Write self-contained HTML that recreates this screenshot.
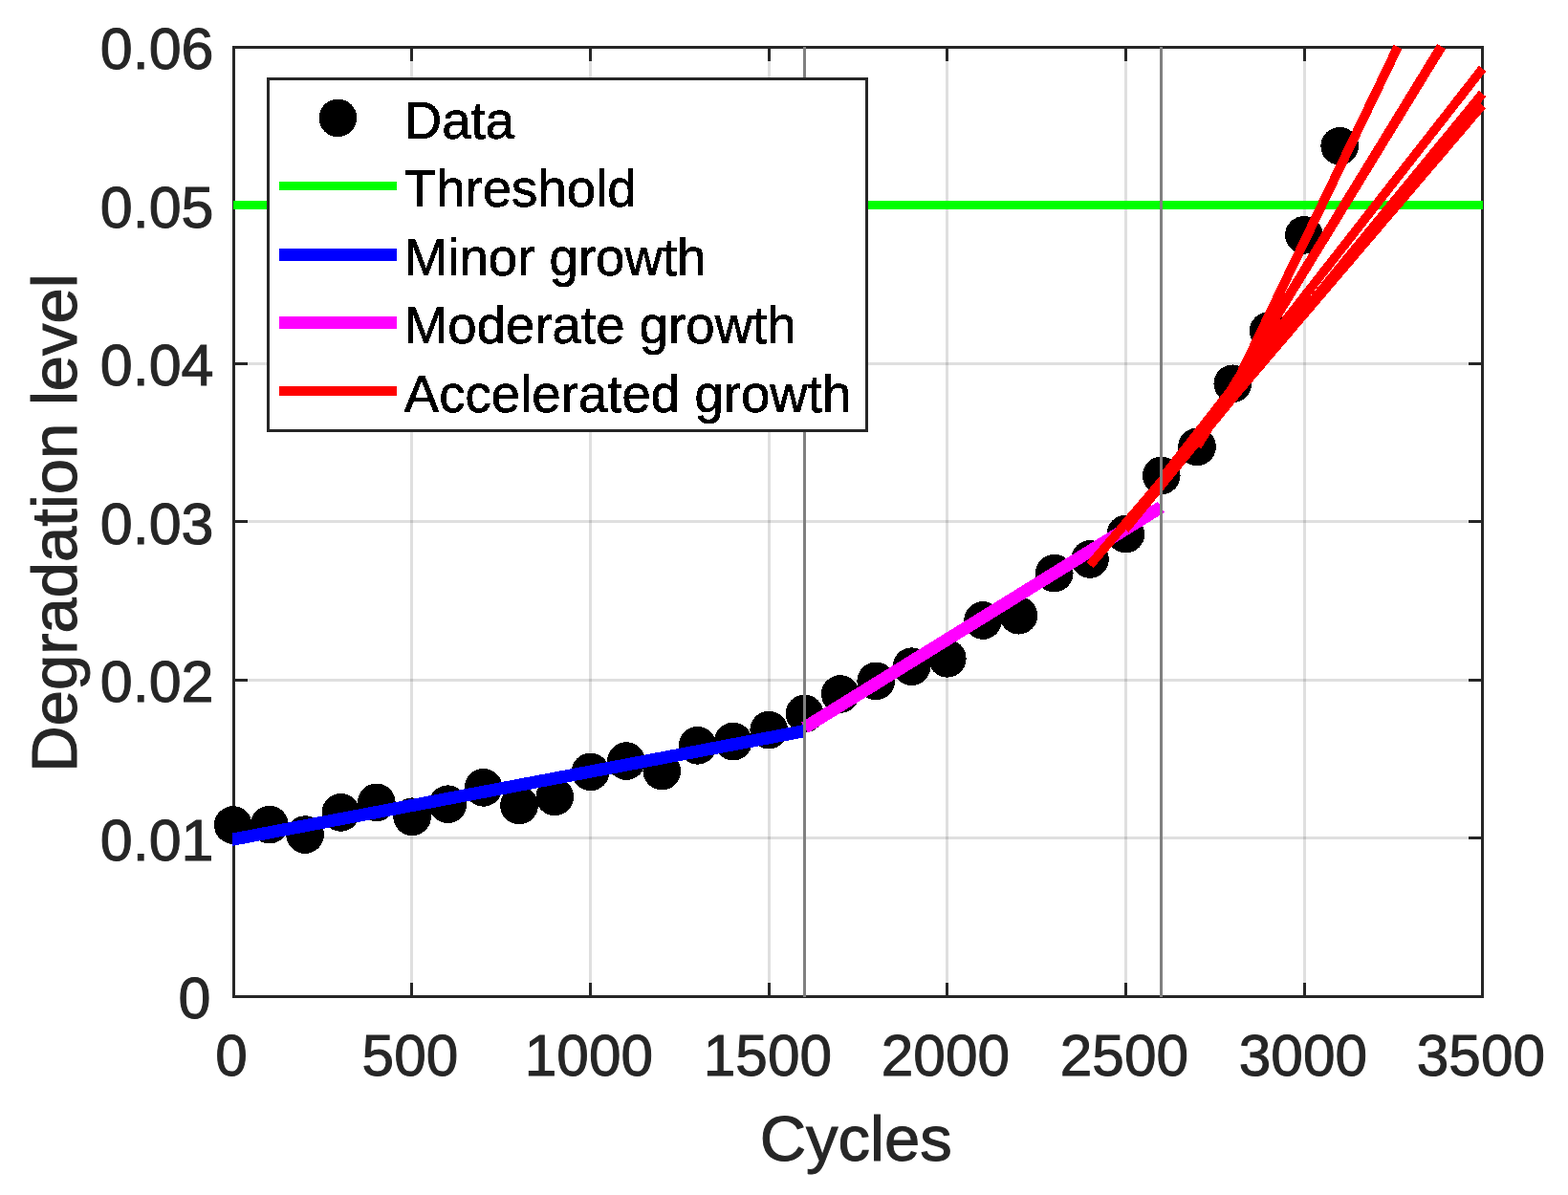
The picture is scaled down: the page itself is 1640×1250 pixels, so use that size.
<!DOCTYPE html>
<html lang="en"><head><meta charset="utf-8"><title>Degradation level vs Cycles</title>
<style>
html,body{margin:0;padding:0;background:#fff;}
body{width:1640px;height:1250px;overflow:hidden;}
svg{display:block;}
text{font-family:"Liberation Sans",Arial,Helvetica,sans-serif;}
.tk{font-size:61px;fill:#262626;stroke:#262626;stroke-width:1px;}
.lb{font-size:67px;fill:#262626;stroke:#262626;stroke-width:1px;}
.lg{font-size:56.2px;fill:#000;stroke:#000;stroke-width:0.7px;}
</style></head><body>
<svg width="1640" height="1250" viewBox="0 0 1640 1250">
<rect x="0" y="0" width="1640" height="1250" fill="#fff"/>
<g stroke="#262626" stroke-opacity="0.15" stroke-width="3" shape-rendering="crispEdges">
<line x1="430.5" y1="49.5" x2="430.5" y2="1042.5"/>
<line x1="617.5" y1="49.5" x2="617.5" y2="1042.5"/>
<line x1="804.5" y1="49.5" x2="804.5" y2="1042.5"/>
<line x1="990.5" y1="49.5" x2="990.5" y2="1042.5"/>
<line x1="1177.5" y1="49.5" x2="1177.5" y2="1042.5"/>
<line x1="1364.5" y1="49.5" x2="1364.5" y2="1042.5"/>
<line x1="244.5" y1="214.5" x2="1550.5" y2="214.5"/>
<line x1="244.5" y1="380.5" x2="1550.5" y2="380.5"/>
<line x1="244.5" y1="545.5" x2="1550.5" y2="545.5"/>
<line x1="244.5" y1="711.5" x2="1550.5" y2="711.5"/>
<line x1="244.5" y1="876.5" x2="1550.5" y2="876.5"/>
</g>
<g stroke="#262626" stroke-width="3" fill="none" shape-rendering="crispEdges">
<rect x="244.5" y="49.5" width="1306.0" height="993.0"/>
<line x1="430.5" y1="1042.5" x2="430.5" y2="1028.0"/>
<line x1="430.5" y1="49.5" x2="430.5" y2="64.0"/>
<line x1="617.5" y1="1042.5" x2="617.5" y2="1028.0"/>
<line x1="617.5" y1="49.5" x2="617.5" y2="64.0"/>
<line x1="804.5" y1="1042.5" x2="804.5" y2="1028.0"/>
<line x1="804.5" y1="49.5" x2="804.5" y2="64.0"/>
<line x1="990.5" y1="1042.5" x2="990.5" y2="1028.0"/>
<line x1="990.5" y1="49.5" x2="990.5" y2="64.0"/>
<line x1="1177.5" y1="1042.5" x2="1177.5" y2="1028.0"/>
<line x1="1177.5" y1="49.5" x2="1177.5" y2="64.0"/>
<line x1="1364.5" y1="1042.5" x2="1364.5" y2="1028.0"/>
<line x1="1364.5" y1="49.5" x2="1364.5" y2="64.0"/>
<line x1="244.5" y1="214.5" x2="259.0" y2="214.5"/>
<line x1="1550.5" y1="214.5" x2="1536.0" y2="214.5"/>
<line x1="244.5" y1="380.5" x2="259.0" y2="380.5"/>
<line x1="1550.5" y1="380.5" x2="1536.0" y2="380.5"/>
<line x1="244.5" y1="545.5" x2="259.0" y2="545.5"/>
<line x1="1550.5" y1="545.5" x2="1536.0" y2="545.5"/>
<line x1="244.5" y1="711.5" x2="259.0" y2="711.5"/>
<line x1="1550.5" y1="711.5" x2="1536.0" y2="711.5"/>
<line x1="244.5" y1="876.5" x2="259.0" y2="876.5"/>
<line x1="1550.5" y1="876.5" x2="1536.0" y2="876.5"/>
</g>
<g class="tk" text-anchor="middle">
<text transform="translate(241.9,1125) scale(0.989,1)">0</text>
<text transform="translate(428.9,1125) scale(0.989,1)">500</text>
<text transform="translate(615.9,1125) scale(0.989,1)">1000</text>
<text transform="translate(802.9,1125) scale(0.989,1)">1500</text>
<text transform="translate(988.9,1125) scale(0.989,1)">2000</text>
<text transform="translate(1175.9,1125) scale(0.989,1)">2500</text>
<text transform="translate(1362.9,1125) scale(0.989,1)">3000</text>
<text transform="translate(1548.9,1125) scale(0.989,1)">3500</text>
</g>
<g class="tk" text-anchor="end">
<text x="223.5" y="72.2">0.06</text>
<text x="223.5" y="237.7">0.05</text>
<text x="223.5" y="403.2">0.04</text>
<text x="223.5" y="568.7">0.03</text>
<text x="223.5" y="734.2">0.02</text>
<text x="223.5" y="899.7">0.01</text>
<text x="220.5" y="1065.2">0</text>
</g>
<text class="lb" text-anchor="middle" x="895.2" y="1214">Cycles</text>
<text class="lb" text-anchor="middle" transform="translate(80,547) rotate(-90)">Degradation level</text>
<g fill="#000" shape-rendering="crispEdges">
<circle cx="243.8" cy="863.0" r="19.85"/>
<circle cx="281.8" cy="862.6" r="19.85"/>
<circle cx="319.1" cy="873.1" r="19.85"/>
<circle cx="356.4" cy="849.9" r="19.85"/>
<circle cx="393.8" cy="839.4" r="19.85"/>
<circle cx="431.1" cy="854.3" r="19.85"/>
<circle cx="468.4" cy="841.2" r="19.85"/>
<circle cx="505.7" cy="823.8" r="19.85"/>
<circle cx="543.0" cy="842.5" r="19.85"/>
<circle cx="580.3" cy="833.4" r="19.85"/>
<circle cx="617.6" cy="807.4" r="19.85"/>
<circle cx="655.0" cy="796.1" r="19.85"/>
<circle cx="692.3" cy="806.6" r="19.85"/>
<circle cx="729.6" cy="779.8" r="19.85"/>
<circle cx="766.9" cy="775.6" r="19.85"/>
<circle cx="804.2" cy="763.6" r="19.85"/>
<circle cx="841.5" cy="746.5" r="19.85"/>
<circle cx="878.8" cy="726.0" r="19.85"/>
<circle cx="916.2" cy="712.4" r="19.85"/>
<circle cx="953.5" cy="697.2" r="19.85"/>
<circle cx="990.8" cy="688.8" r="19.85"/>
<circle cx="1028.1" cy="649.0" r="19.85"/>
<circle cx="1065.4" cy="643.7" r="19.85"/>
<circle cx="1102.7" cy="599.6" r="19.85"/>
<circle cx="1140.0" cy="585.0" r="19.85"/>
<circle cx="1177.4" cy="558.6" r="19.85"/>
<circle cx="1214.7" cy="497.4" r="19.85"/>
<circle cx="1252.0" cy="467.4" r="19.85"/>
<circle cx="1289.3" cy="401.3" r="19.85"/>
<circle cx="1326.6" cy="346.3" r="19.85"/>
<circle cx="1363.9" cy="245.9" r="19.85"/>
<circle cx="1401.2" cy="152.8" r="19.85"/>
</g>
<g fill="none" shape-rendering="crispEdges" stroke-linecap="butt">
<rect x="244" y="210" width="1307" height="9" fill="#00ff00"/>
<polygon fill="#0000ff" points="243.00,871.47 840.27,758.12 842.73,771.08 243.00,884.90"/>
<line x1="841.5" y1="761.2" x2="1214.5" y2="530.4" stroke="#ff00ff" stroke-width="13.2"/>
<line x1="1140.00" y1="591.10" x2="1550.50" y2="110.00" stroke="#ff0000" stroke-width="9.5"/>
<line x1="1176.70" y1="553.80" x2="1550.50" y2="97.90" stroke="#ff0000" stroke-width="9.5"/>
<line x1="1217.00" y1="498.30" x2="1550.50" y2="71.80" stroke="#ff0000" stroke-width="9.5"/>
<line x1="1252.00" y1="466.60" x2="1507.60" y2="48.60" stroke="#ff0000" stroke-width="10.2"/>
<line x1="1289.30" y1="408.70" x2="1462.00" y2="49.00" stroke="#ff0000" stroke-width="9.8"/>
</g>
<g stroke="#808080" stroke-width="3" shape-rendering="crispEdges">
<line x1="841.5" y1="49" x2="841.5" y2="1043"/>
<line x1="1214.5" y1="49" x2="1214.5" y2="1043"/>
</g>
<rect x="280.5" y="82.5" width="626" height="368" fill="#fff" stroke="#262626" stroke-width="3" shape-rendering="crispEdges"/>
<circle cx="353.4" cy="123.4" r="19.85" fill="#000" shape-rendering="crispEdges"/>
<g shape-rendering="crispEdges">
<rect x="292" y="190" width="123" height="9" fill="#00ff00"/>
<rect x="292" y="260" width="123" height="13" fill="#0000ff"/>
<rect x="292" y="331" width="123" height="13" fill="#ff00ff"/>
<rect x="292" y="404" width="123" height="10" fill="#ff0000"/>
</g>
<filter id="al" x="-2%" y="-20%" width="104%" height="140%"><feComponentTransfer><feFuncA type="discrete" tableValues="0 1"/></feComponentTransfer></filter>
<g class="lg" filter="url(#al)" transform="translate(422.8,0) scale(0.972,1)">
<text x="0" y="144.6">Data</text>
<text x="0" y="216.4">Threshold</text>
<text x="0" y="287.8">Minor growth</text>
<text x="0" y="358.8">Moderate growth</text>
<text x="0" y="430.6">Accelerated growth</text>
</g>
</svg>
</body></html>
